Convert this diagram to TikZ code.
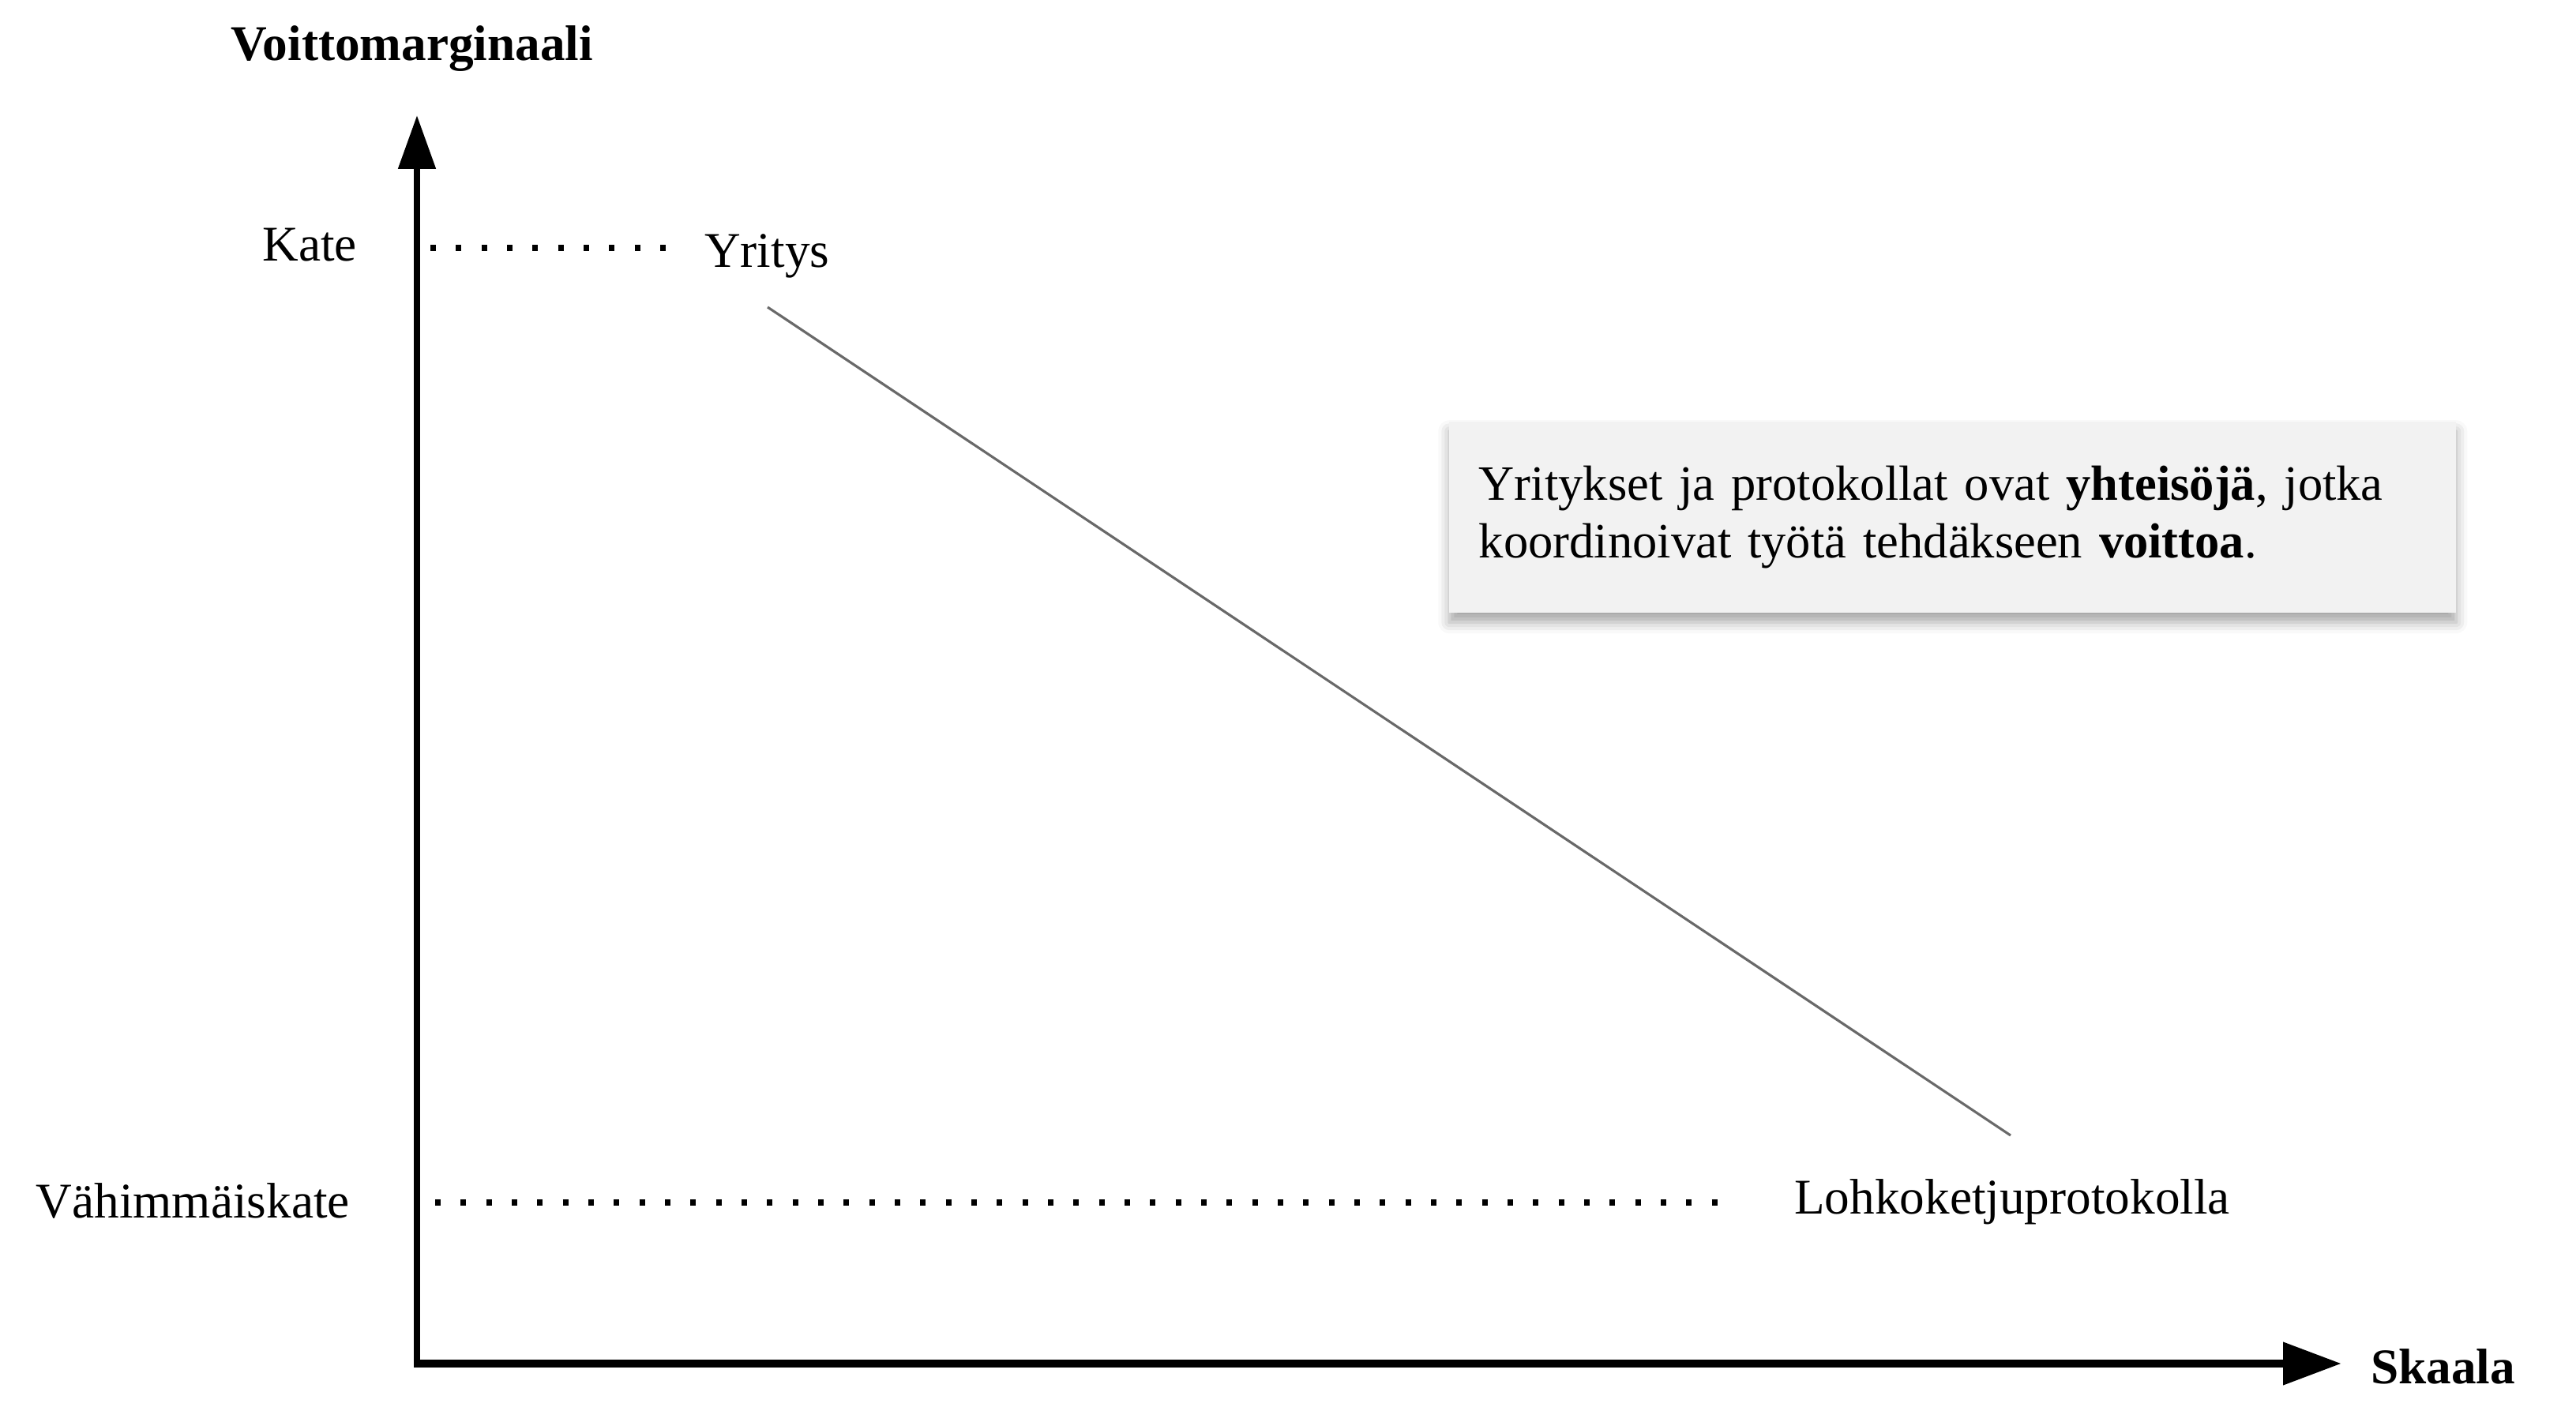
\documentclass[tikz,border=0pt]{standalone}
\usepackage{fontspec}
\setmainfont{Liberation Serif}
\usetikzlibrary{arrows.meta,shadows.blur}
\definecolor{boxgray}{RGB}{242,242,242}
\definecolor{slopegray}{RGB}{105,105,105}

\begin{document}
\begin{tikzpicture}[line width=2.4pt, font=\fontsize{18}{20.7}\selectfont,
    dots/.style={line width=2pt, dash pattern=on 2pt off 7.2pt},
    axislabel/.style={inner sep=0pt, font=\fontsize{18}{20.7}\selectfont\bfseries},
    infobox/.style={fill=boxgray, draw=none, text width=12.0cm, align=left,
      inner xsep=0.37cm, minimum width=12.75cm, minimum height=2.42cm,
      font=\fontsize{17.8}{20.7}\selectfont,
      blur shadow={shadow xshift=0pt, shadow yshift=-0.12cm,
        shadow blur radius=0.14cm, shadow opacity=35}}]
  \useasboundingbox (0,0) rectangle (32.62,18);
  \coordinate (O) at (5.28,0.73);
  \coordinate (Y) at (5.28,16.54);
  \coordinate (X) at (29.65,0.73);
  \coordinate (K1) at (5.45,14.86);
  \coordinate (K2) at (8.45,14.86);
  \coordinate (V1) at (5.51,2.77);
  \coordinate (V2) at (21.78,2.77);
  \coordinate (A) at (9.72,14.11);
  \coordinate (B) at (25.46,3.62);
  % axes
  \draw[-{Triangle[length=0.68cm,width=0.46cm]}] (O) -- (Y);
  \draw[line width=3pt, -{Triangle[length=0.74cm,width=0.52cm]}]
    ([xshift=-1.2pt]O) -- (X);
  \node[axislabel, anchor=base] (ylab) at (5.22,17.23) {Voittomarginaali};
  \node[axislabel, anchor=base west] (xlab) at (29.98,0.48) {Skaala};
  % levels
  \draw[dots] (K1) -- (K2);
  \draw[dots] (V1) -- (V2);
  \node[inner sep=0pt, anchor=base east] (kate) at (4.56,14.69) {Kate};
  \node[inner sep=0pt, anchor=base east] (min) at (4.47,2.58) {Vähimmäiskate};
  \node[inner sep=0pt, anchor=base west] (yritys) at (8.88,14.61) {Yritys};
  \node[inner sep=0pt, anchor=base west] (lohko) at (22.68,2.63) {Lohkoketjuprotokolla};
  \draw[slopegray, line width=0.9pt] (A) -- (B);
  % note
  \node[infobox, anchor=north west] (note) at (18.31,12.70)
    {Yritykset ja protokollat ovat \textbf{yhteisöjä}, jotka\\
     koordinoivat työtä tehdäkseen \textbf{voittoa}.};
\end{tikzpicture}
\end{document}
